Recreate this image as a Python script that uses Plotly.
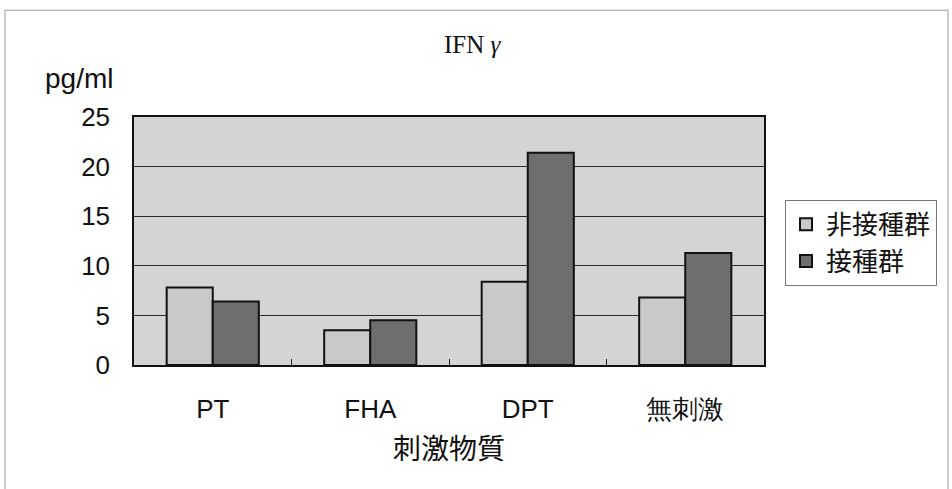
import plotly.graph_objects as go

# Stimulants on the x axis and IFN-gamma response (pg/ml) per group
categories = ["PT", "FHA", "DPT", "無刺激"]
unvaccinated = [7.8, 3.5, 8.4, 6.8]   # 非接種群
vaccinated = [6.4, 4.5, 21.4, 11.3]   # 接種群
series_names = ["非接種群", "接種群"]
y_ticks = [0, 5, 10, 15, 20, 25]

W, H = 952, 489
L, R, T, B = 134, 764, 117, 365.5

def px(x):
    return (x - L) / (R - L)

def py(y):
    return (B - y) / (B - T)

jp = "Noto Sans CJK JP, Liberation Sans, Arial, sans-serif"
latin = "Liberation Sans, Arial, sans-serif"

fig = go.Figure()
fig.add_trace(go.Bar(
    x=categories, y=unvaccinated, name=series_names[0],
    marker=dict(color="#c9c9c9", line=dict(color="#111111", width=2)),
))
fig.add_trace(go.Bar(
    x=categories, y=vaccinated, name=series_names[1],
    marker=dict(color="#6e6e6e", line=dict(color="#111111", width=2)),
))

fig.update_layout(
    width=W, height=H,
    margin=dict(l=L, r=W - R, t=T, b=H - B),
    paper_bgcolor="white",
    plot_bgcolor="#d4d4d4",
    barmode="group",
    bargap=0.415,
    bargroupgap=0,
    showlegend=True,
    legend=dict(
        x=px(785), y=py(200), xanchor="left", yanchor="top",
        bgcolor="white", bordercolor="#777777", borderwidth=1,
        font=dict(family=jp, size=26, color="#111111"),
        itemsizing="constant", tracegroupgap=0,
    ),
    xaxis=dict(
        type="category",
        tickfont=dict(family=latin, size=26, color="#111111"),
        ticks="inside", tickson="boundaries", ticklen=6, tickcolor="#222222",
        showline=True, linecolor="#111111", linewidth=1.5, mirror=True,
        ticklabelstandoff=20,
        title=dict(text="刺激物質", font=dict(family=jp, size=28, color="#111111"), standoff=16),
    ),
    yaxis=dict(
        range=[0, 25], tickvals=y_ticks,
        tickfont=dict(family=latin, size=26, color="#111111"),
        showgrid=True, gridcolor="#2a2a2a", gridwidth=1,
        showline=True, linecolor="#111111", linewidth=1.5, mirror=True,
        zeroline=False, ticks="", ticklabelstandoff=17,
    ),
)

# chart title and unit label
fig.add_annotation(
    text="IFN <i>γ</i>", xref="paper", yref="paper", x=px(473), y=py(44),
    xanchor="center", yanchor="middle", showarrow=False,
    font=dict(family="Liberation Serif, DejaVu Serif, serif", size=25, color="#111111"),
)
fig.add_annotation(
    text="pg/ml", xref="paper", yref="paper", x=px(43), y=py(78),
    xanchor="left", yanchor="middle", showarrow=False,
    font=dict(family=latin, size=28, color="#111111"),
)

# thin frame around the whole chart
fig.add_shape(
    type="rect", xref="paper", yref="paper",
    x0=px(5), x1=px(948), y0=py(500), y1=py(10),
    line=dict(color="#9a9a9a", width=1), fillcolor="rgba(0,0,0,0)", layer="below",
)

fig.write_html("out.html")
